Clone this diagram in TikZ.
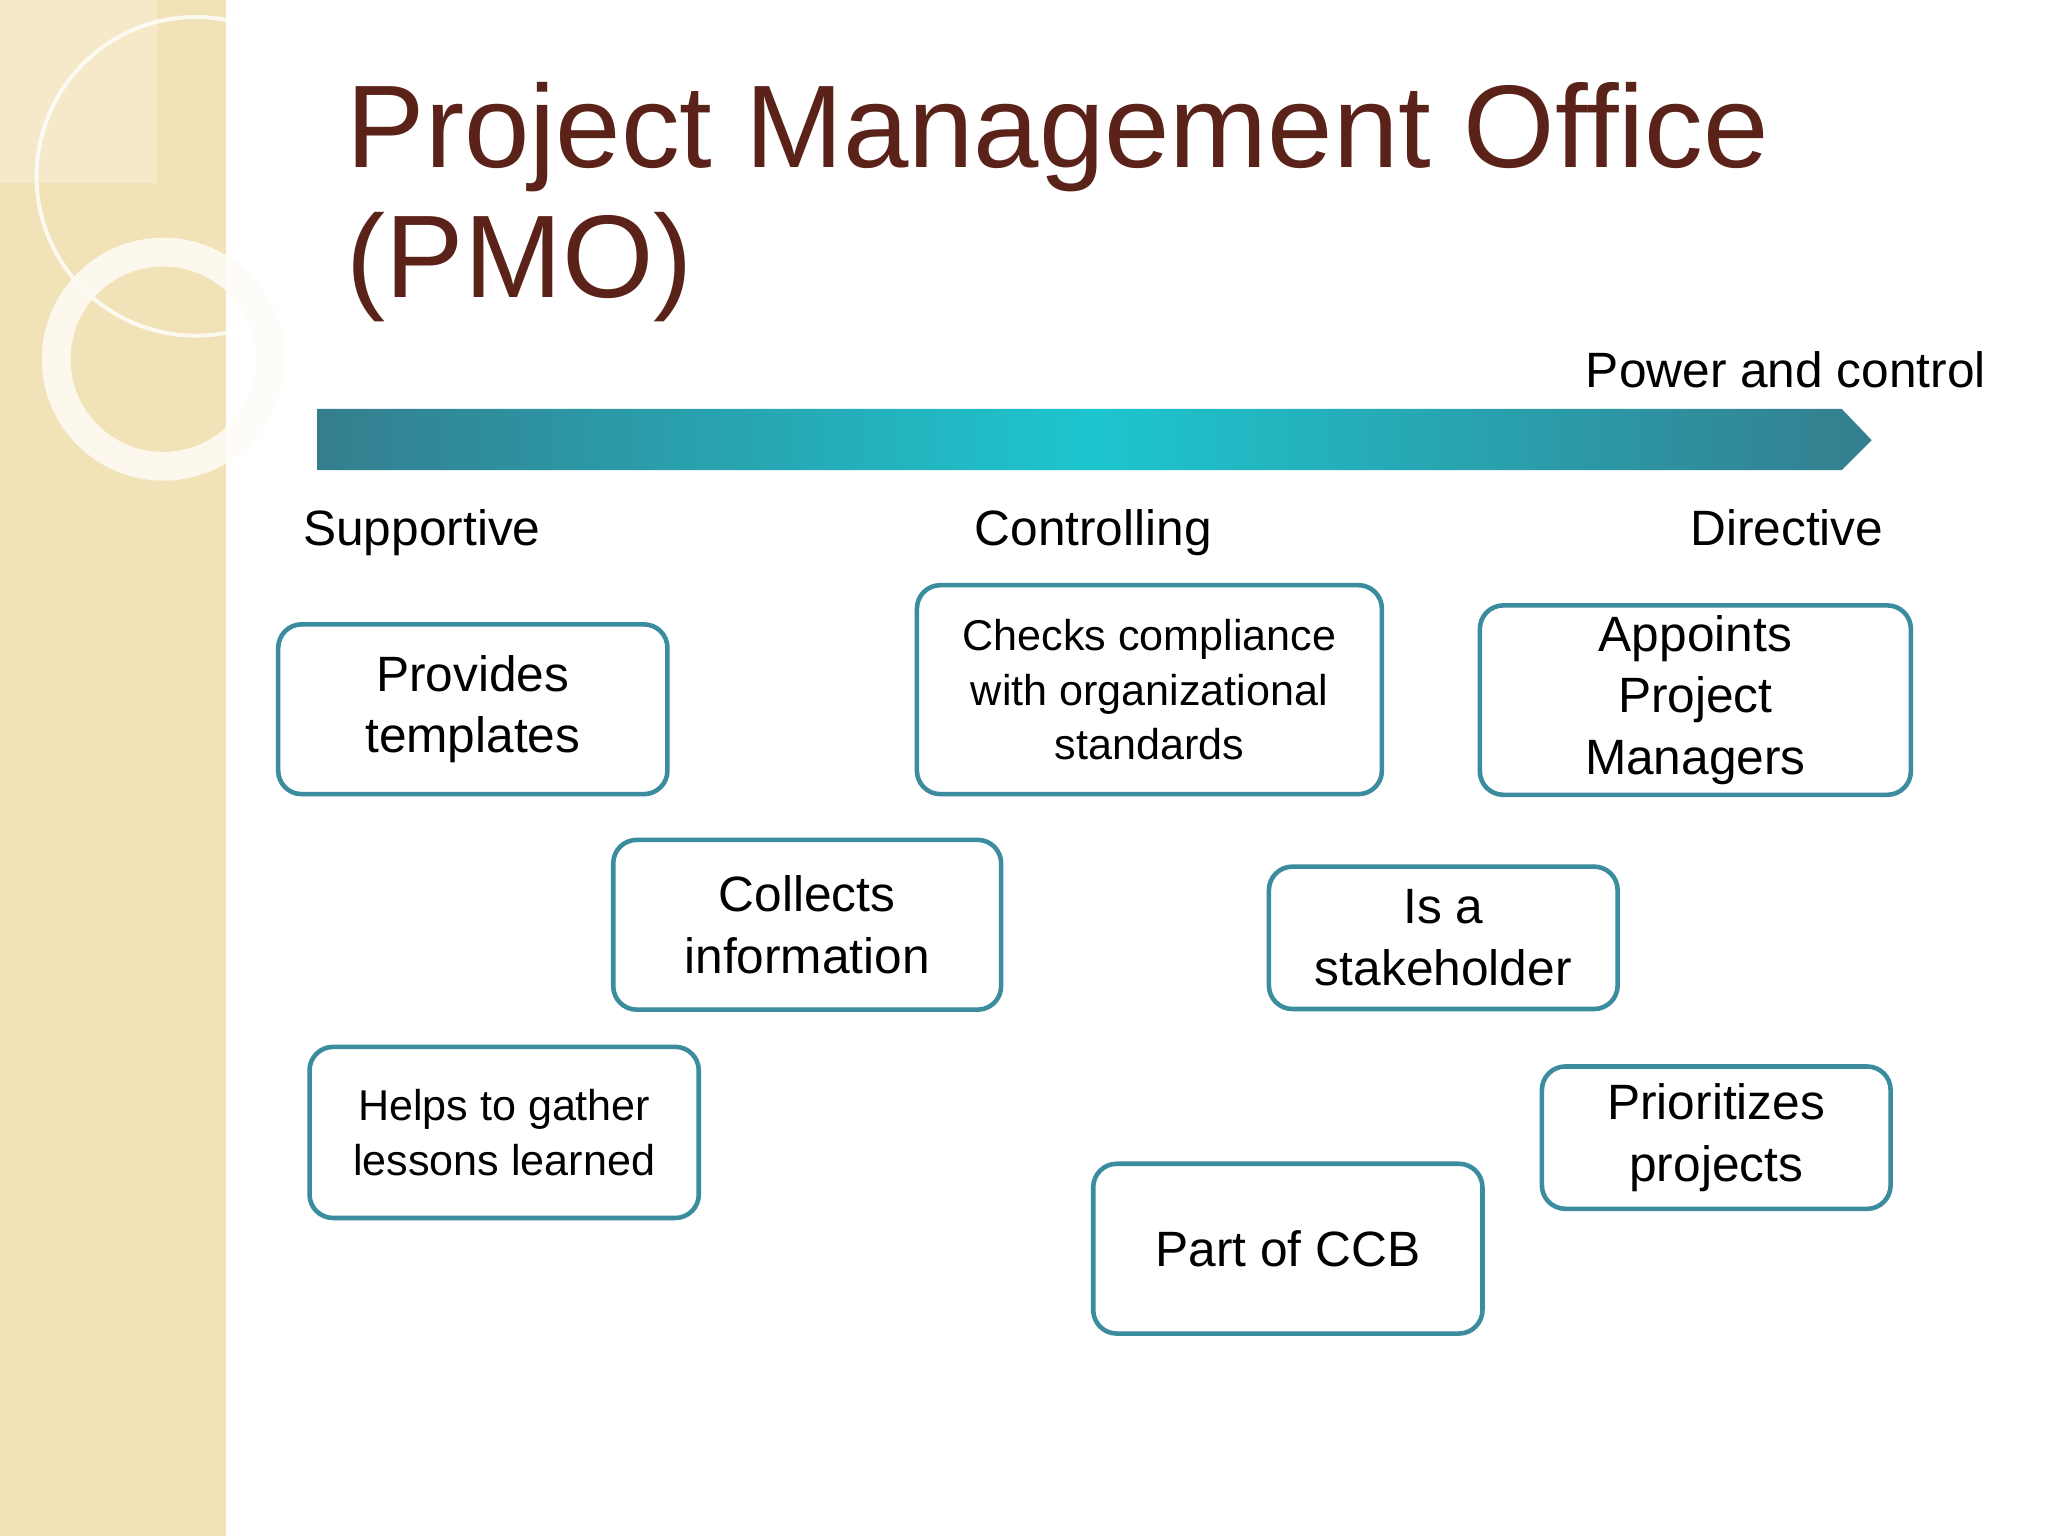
\documentclass[tikz,border=0pt]{standalone}
\usepackage{fontspec}
\setmainfont{Liberation Sans}
\begin{document}
\begin{tikzpicture}[x=1pt,y=-1pt,
  pbox/.style={draw=boxc,line width=3.5pt,rounded corners=18pt,fill=white,align=center,inner sep=0pt,font=\fontsize{38}{47}\selectfont},
  lbl/.style={font=\fontsize{38}{44}\selectfont,anchor=base}]
\definecolor{boxc}{HTML}{3A8C9E}
\definecolor{titlec}{HTML}{5A2218}
\definecolor{beige}{HTML}{F2E2B8}
\useasboundingbox (0,0) rectangle (1568,1176);
\fill[white] (0,0) rectangle (1568,1176);
\fill[beige] (0,0) rectangle (173,1176);
\fill[white,opacity=0.25] (0,0) rectangle (120,140);
\draw[white,opacity=0.8,line width=3pt] (150,135) circle (122);
\draw[white!90!beige,line width=22pt,opacity=0.85] (125,275) circle (82);
\node[anchor=base west,text=titlec,font=\fontsize{90}{100}\selectfont] (t1) at (262,128) {Project Management Office};
\node[anchor=base west,text=titlec,font=\fontsize{90}{100}\selectfont] (t2) at (262,228) {(PMO)};
\shade[left color=boxc!90!black,right color=boxc!90!black,middle color=cyan!50!boxc] (243,313) -- (1410,313) -- (1433,337) -- (1410,360) -- (243,360) -- cycle;
\node[lbl,anchor=base east] (pc) at (1524,297) {Power and control};
\node[lbl] (s) at (323,418) {Supportive};
\node[lbl] (c) at (837,418) {Controlling};
\node[lbl] (d) at (1368,418) {Directive};
\node[pbox,minimum width=298pt,minimum height=130pt] (b1) at (362,543) {Provides\\templates};
\node[pbox,minimum width=297pt,minimum height=130pt] (b2) at (618,708) {Collects\\information};
\node[pbox,minimum width=298pt,minimum height=131pt,font=\fontsize{33}{42}\selectfont] (b3) at (386,867) {Helps to gather\\lessons learned};
\node[pbox,minimum width=356pt,minimum height=160pt,font=\fontsize{33}{42}\selectfont] (b4) at (880,528) {Checks compliance\\with organizational\\standards};
\node[pbox,minimum width=330pt,minimum height=145pt] (b5) at (1298,536) {Appoints\\Project\\Managers};
\node[pbox,minimum width=267pt,minimum height=109pt] (b6) at (1105,718) {Is a\\stakeholder};
\node[pbox,minimum width=267pt,minimum height=109pt] (b7) at (1314,871) {Prioritizes\\projects};
\node[pbox,minimum width=298pt,minimum height=130pt] (b8) at (986,956) {Part of CCB};
\end{tikzpicture}
\end{document}
